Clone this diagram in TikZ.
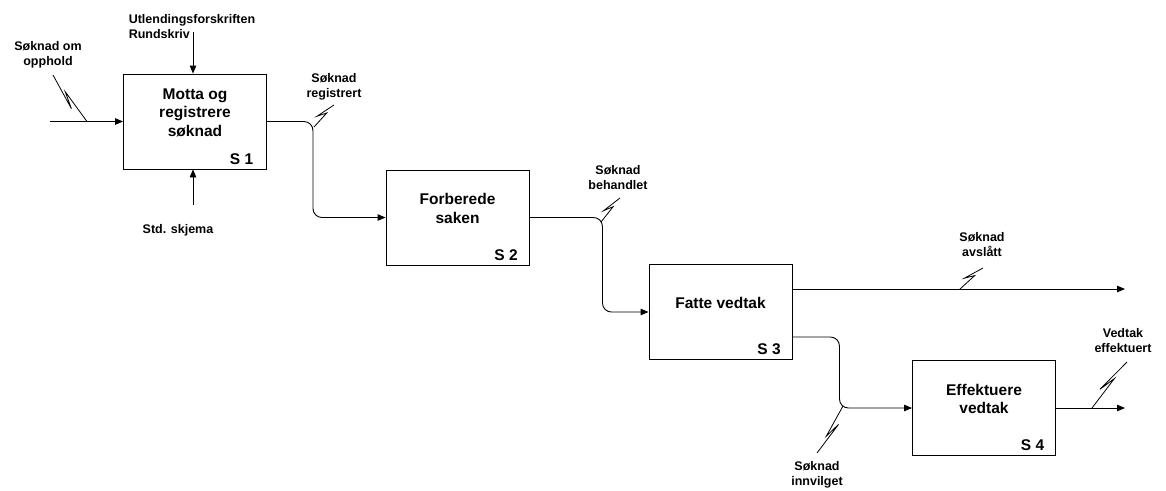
\documentclass[tikz,border=0pt]{standalone}
\usepackage{fontspec}
\setmainfont{Liberation Sans}
\usetikzlibrary{arrows.meta, calc}

% knekk-strek fra pil til etikett
\newcommand{\squig}[2]{%
  \draw[line width=0.8pt] (#1) -- ($(#1)!0.64!(#2)$)
    -- ($(#1)!0.34!(#2)!5pt!90:(#2)$) -- (#2);}

\begin{document}
\begin{tikzpicture}[
  x=1pt, y=-1pt,
  >={Triangle[length=8pt, width=6.5pt]}, line width=0.9pt,
  box/.style={draw, minimum width=143pt, minimum height=95pt, inner sep=0pt},
  title/.style={align=center, font=\fontsize{15.5}{18.5}\selectfont\bfseries},
  num/.style={anchor=base east, font=\fontsize{15.5}{18.5}\selectfont\bfseries},
  lbl/.style={align=center, font=\fontsize{12.5}{15}\selectfont\bfseries},
  flow/.style={->, rounded corners=9pt}]

  \useasboundingbox (0,0) rectangle (1166,490);

  % aktiviteter
  \node[box] (s1) at (195,121.5) {};
  \node[box] (s2) at (457.5,217.5) {};
  \node[box] (s3) at (720.5,312) {};
  \node[box] (s4) at (984,408) {};

  \node[title] (t1) at ([yshift=9pt]s1.center) {Motta og\\registrere\\søknad};
  \node[title] (t2) at ([yshift=9pt]s2.center) {Forberede\\saken};
  \node[title] (t3) at ([yshift=9pt]s3.center) {Fatte vedtak};
  \node[title] (t4) at ([yshift=9pt]s4.center) {Effektuere\\vedtak};

  \node[num] (n1) at ([xshift=-10pt, yshift=5pt]s1.south east) {S 1};
  \node[num] (n2) at ([xshift=-8pt, yshift=5pt]s2.south east) {S 2};
  \node[num] (n3) at ([xshift=-8pt, yshift=5pt]s3.south east) {S 3};
  \node[num] (n4) at ([xshift=-8pt, yshift=5pt]s4.south east) {S 4};

  % inn, styring og mekanisme for S 1
  \coordinate (in1) at (50,121.5);
  \draw[->] (in1) -- (s1.west);
  \node[lbl] (lin) at (48,55) {Søknad om\\opphold};
  \squig{87,121.5}{53,75}

  \coordinate (ctl) at (193,32);
  \draw[->] (ctl) -- (ctl |- s1.north);
  \node[lbl, align=left, anchor=west] (lctl) at (125,26.5)
    {Utlendingsforskriften\\Rundskriv};

  \coordinate (mech) at (193,205);
  \draw[->] (mech) -- (mech |- s1.south);
  \node[lbl] (lmech) at (178,230) {Std. skjema};

  % flyt mellom aktivitetene
  \draw[flow] (s1.east) -- ++(46,0) |- (s2.west);
  \node[lbl] (lreg) at (334,87) {Søknad\\registrert};
  \squig{314,127}{334,105}

  \draw[flow] (s2.east) -- ++(73,0) |- (s3.west);
  \node[lbl] (lbeh) at (618,178) {Søknad\\behandlet};
  \squig{601,222}{620,198}

  \coordinate (avs) at (1125,289);
  \draw[->] (s3.east |- avs) -- (avs);
  \node[lbl] (lavs) at (982,245) {Søknad\\avslått};
  \squig{960,289}{983,268}

  \coordinate (s3b) at ([yshift=-25pt]s3.east);
  \draw[flow] (s3b) -- ++(47,0) |- (s4.west);
  \node[lbl] (linn) at (817,474.5) {Søknad\\innvilget};
  \squig{843,406}{817,453}

  \coordinate (eff) at (1125,408);
  \draw[->] (s4.east) -- (eff);
  \node[lbl] (leff) at (1123,340.5) {Vedtak\\effektuert};
  \squig{1092,408}{1127,362}
\end{tikzpicture}
\end{document}
